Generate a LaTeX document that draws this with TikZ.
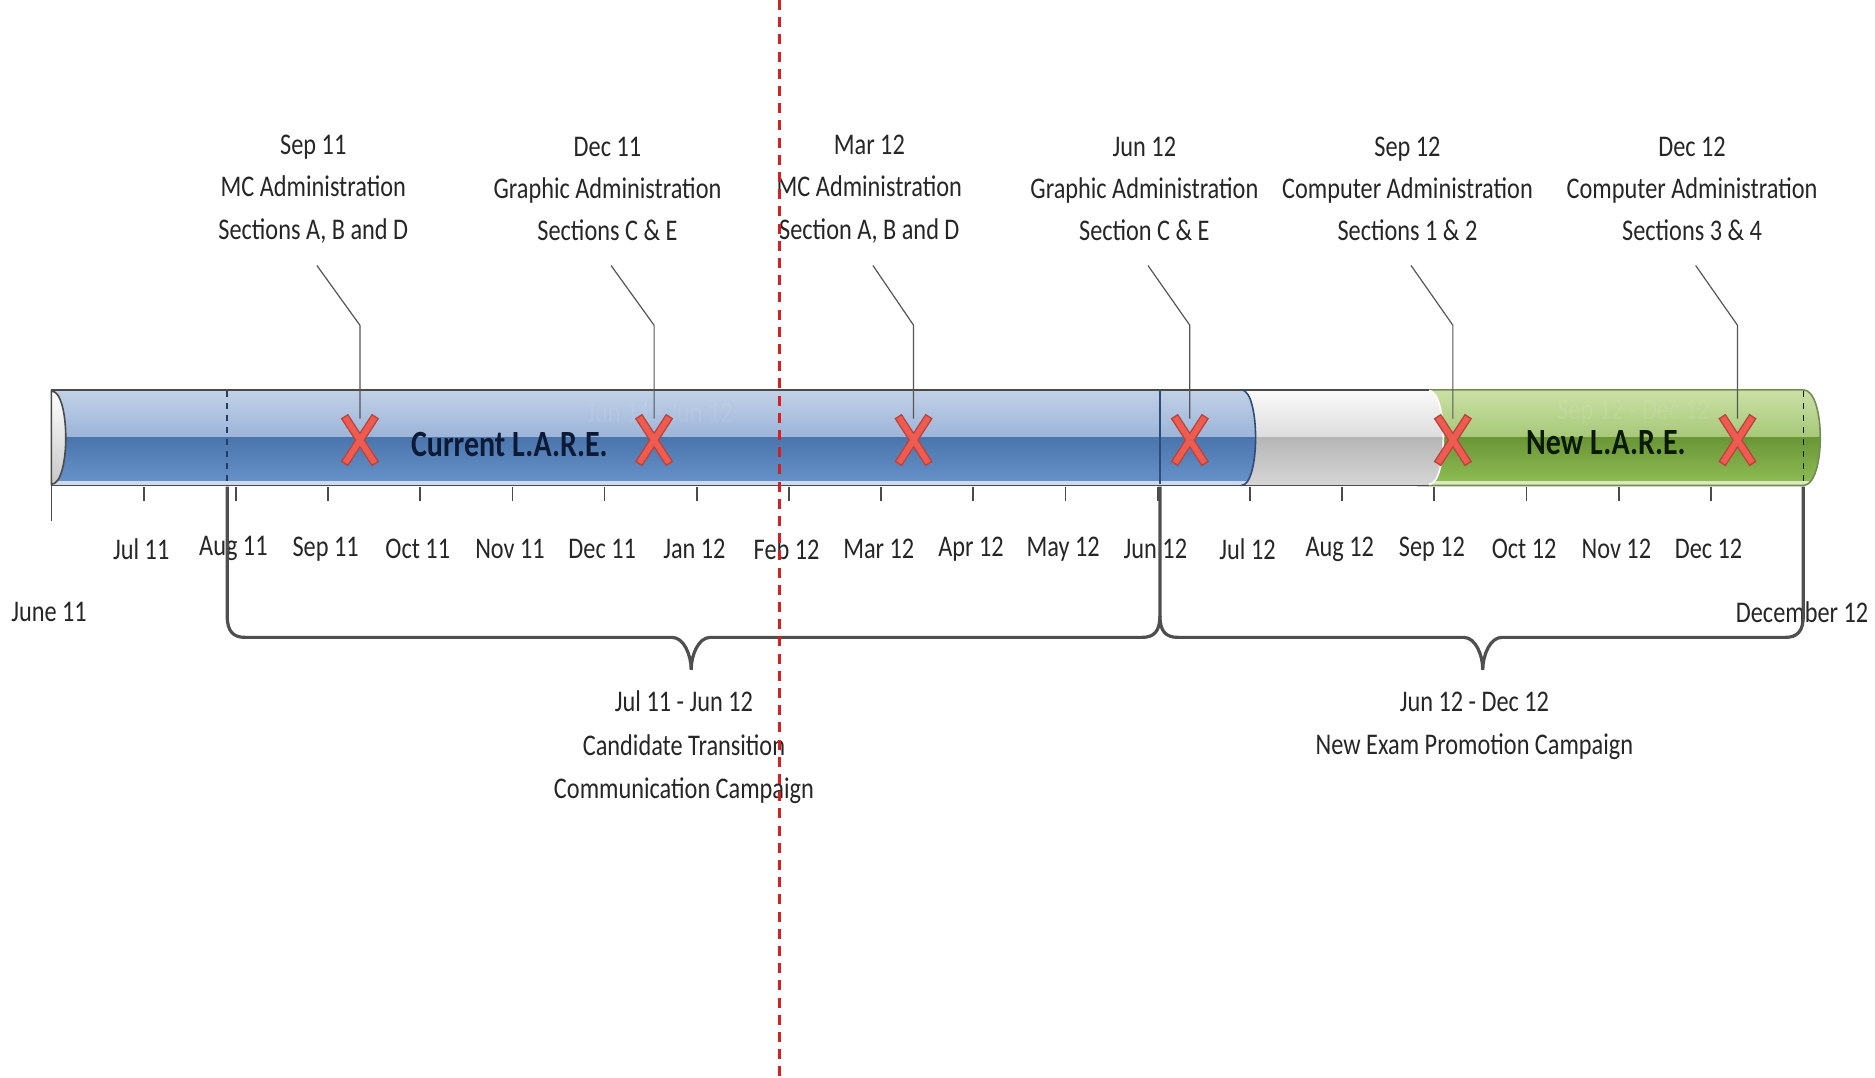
\documentclass[tikz,border=0pt]{standalone}
\usepackage{fontspec}
\setmainfont{Carlito}[FakeStretch=0.81]
\definecolor{labelgray}{HTML}{262626}
\definecolor{leadgray}{HTML}{555555}
\definecolor{tickgray}{HTML}{4A4A4A}
\definecolor{bracegray}{HTML}{4F4F4F}
\definecolor{navyline}{HTML}{2E4C78}
\definecolor{bluetop}{HTML}{C2D1E7}
\definecolor{bluemidA}{HTML}{9CB4D8}
\definecolor{bluemidB}{HTML}{4A76AD}
\definecolor{bluebot}{HTML}{6893CB}
\definecolor{greytop}{HTML}{FBFBFB}
\definecolor{greymidA}{HTML}{DCDCDC}
\definecolor{greymidB}{HTML}{B6B6B6}
\definecolor{greybot}{HTML}{D6D6D6}
\definecolor{greentop}{HTML}{CBE0A6}
\definecolor{greenmidA}{HTML}{A6C878}
\definecolor{greenmidB}{HTML}{6A9636}
\definecolor{greenbot}{HTML}{90BE56}
\definecolor{xdark}{HTML}{B8443C}
\definecolor{xlight}{HTML}{EE5B50}
\definecolor{reddash}{HTML}{D42020}
\definecolor{curtext}{HTML}{0D1A36}
\definecolor{newtext}{HTML}{0B1A05}
\begin{document}
\begin{tikzpicture}[x=0.5979pt,y=-0.5979pt,
  lbl/.style={font=\fontsize{15}{21.2}\selectfont,text=labelgray,align=center,inner sep=0pt},
  blbl/.style={font=\fontsize{15}{21.8}\selectfont,text=labelgray,align=center,inner sep=0pt},
  mon/.style={font=\fontsize{15}{17}\selectfont,text=labelgray,inner sep=0pt},
  bartext/.style={font=\fontsize{18.5}{20}\selectfont\bfseries,inner sep=0pt},
  ghost/.style={font=\fontsize{15}{17}\selectfont,text=white,opacity=0.08,inner sep=0pt},
  lead/.style={draw=leadgray,line width=0.6pt},
  tickline/.style={draw=tickgray,line width=0.9pt},
  brace/.style={draw=bracegray,line width=1.6pt},
  xout/.style={draw=xdark,line width=4.3pt},
  xin/.style={draw=xlight,line width=2.9pt}]
\useasboundingbox (0,0) rectangle (1568,901);
\fill[white] (0,0) rectangle (1568,901);

% ---------- green segment ----------
\begin{scope}
\clip (1185,326) -- (1508,326) .. controls (1527,326) and (1527,406) .. (1508,406) -- (1185,406) -- cycle;
\shade[top color=greentop,bottom color=greenmidA] (1100,326) rectangle (1540,366);
\shade[top color=greenmidB,bottom color=greenbot] (1100,366) rectangle (1540,406);
\fill[greentop!70!white] (1100,402) rectangle (1540,406);
\end{scope}
\draw[draw=greenmidA!70!black,line width=0.8pt] (1185,326) -- (1508,326) .. controls (1527,326) and (1527,406) .. (1508,406) -- (1185,406);

% ---------- grey segment ----------
\begin{scope}
\clip (1030,326) -- (1195,326) .. controls (1211,326) and (1211,406) .. (1195,406) -- (1030,406) -- cycle;
\shade[top color=greytop,bottom color=greymidA] (1000,326) rectangle (1220,366);
\shade[top color=greymidB,bottom color=greybot] (1000,366) rectangle (1220,406);
\end{scope}
\draw[draw=tickgray,line width=0.9pt] (1030,326) -- (1195,326);
\draw[draw=tickgray,line width=0.9pt] (1030,406) -- (1195,406);
\draw[draw=white,line width=0.8pt] (1195,327) .. controls (1211,327) and (1211,405) .. (1195,405);

% ---------- blue segment ----------
\begin{scope}
\clip (43,326) -- (1038,326) .. controls (1054,326) and (1054,406) .. (1038,406) -- (43,406) -- cycle;
\shade[top color=bluetop,bottom color=bluemidA] (40,326) rectangle (1060,366);
\shade[top color=bluemidB,bottom color=bluebot] (40,366) rectangle (1060,406);
\fill[bluetop!80!white] (40,402) rectangle (1060,406);
\end{scope}
\draw[draw=tickgray,line width=0.9pt] (1038,326) -- (43,326) -- (43,406) -- (1038,406);
\draw[draw=navyline,line width=0.8pt] (1038,326) .. controls (1054,326) and (1054,406) .. (1038,406);

% left cap of the cylinder
\shade[top color=white,bottom color=black!22,draw=tickgray,line width=0.8pt]
  (43,327) .. controls (59,327) and (59,405) .. (43,405) -- cycle;

% dashed / solid markers inside the bar
\draw[navyline!80!black,dashed,line width=0.8pt] (190,327) -- (190,405);
\draw[navyline,line width=0.9pt] (970,327) -- (970,405);
\draw[newtext,dashed,line width=0.7pt] (1508,327) -- (1508,405);

% faint ghost labels in the bar
\node[ghost] (g1) at (552,345) {Jun 11 - Jun 12};
\node[ghost] (g2) at (1366,345) {Sep 12 - Dec 12};

% ---------- ticks and month labels ----------
\draw[tickline] (43,406) -- (43,436);
\foreach \i/\t in {1/Jul 11,2/Aug 11,3/Sep 11,4/Oct 11,5/Nov 11,6/Dec 11,7/Jan 12,8/Feb 12,9/Mar 12,10/Apr 12,11/May 12,12/Jun 12,13/Jul 12,14/Aug 12,15/Sep 12,16/Oct 12,17/Nov 12,18/Dec 12}{
  \draw[tickline] (43+\i*77.1,407) -- ++(0,12);
  \node[mon] (m\i) at (41+\i*77.1,459) {\t};
}
\node[mon] (m0) at (41,512) {June 11};
\node[mon] (m19) at (1507,512) {December 12};

% ---------- braces ----------
\coordinate (bl) at (190,407);
\coordinate (bm) at (970,407);
\coordinate (br) at (1508,407);
\draw[brace] (bl) -- (190,515) .. controls (190,528) and (195,533) .. (205,533) -- (562,533)
  .. controls (572,533) and (578,548) .. (578,560) .. controls (578,548) and (584,533) .. (594,533)
  -- (955,533) .. controls (965,533) and (970,528) .. (970,515) -- (bm);
\draw[brace] (970,515) .. controls (970,528) and (975,533) .. (985,533) -- (1224,533)
  .. controls (1234,533) and (1240,548) .. (1240,560) .. controls (1240,548) and (1246,533) .. (1256,533)
  -- (1493,533) .. controls (1503,533) and (1508,528) .. (1508,515) -- (br);
\node[blbl] (c1) at (572,625) {Jul 11 - Jun 12\\Candidate Transition\\Communication Campaign};
\node[blbl] (c2) at (1233,607) {Jun 12 - Dec 12\\New Exam Promotion Campaign};

% ---------- top labels ----------
\node[lbl] (l1) at (262,158) {Sep 11\\MC Administration\\Sections A, B and D};
\node[lbl] (l2) at (508,158) {Dec 11\\Graphic Administration\\Sections C \& E};
\node[lbl] (l3) at (727,158) {Mar 12\\MC Administration\\Section A, B and D};
\node[lbl] (l4) at (957,158) {Jun 12\\Graphic Administration\\Section C \& E};
\node[lbl] (l5) at (1177,158) {Sep 12\\Computer Administration\\Sections 1 \& 2};
\node[lbl] (l6) at (1415,158) {Dec 12\\Computer Administration\\Sections 3 \& 4};

% ---------- X markers ----------
\foreach \n/\x in {1/301,2/547,3/764,4/995,5/1215,6/1453}{
  \coordinate (x\n) at (\x,368);
  \draw[xout] ([shift={(-13,-20)}]x\n) -- ([shift={(13,20)}]x\n)
              ([shift={(13,-20)}]x\n) -- ([shift={(-13,20)}]x\n);
  \draw[xin]  ([shift={(-12.3,-19)}]x\n) -- ([shift={(12.3,19)}]x\n)
              ([shift={(12.3,-19)}]x\n) -- ([shift={(-12.3,19)}]x\n);
}

% ---------- leader lines ----------
\foreach \n in {1,...,6}{
  \draw[lead] ([shift={(3,64)}]l\n.center) -- ([shift={(0,-96)}]x\n) -- ([shift={(0,-18)}]x\n);
}

% ---------- bar titles ----------
\node[bartext,text=curtext] (cur) at (426,372) {Current L.A.R.E.};
\node[bartext,text=newtext] (new) at (1343,370) {New L.A.R.E.};

% ---------- red dashed divider ----------
\coordinate (rt) at (652,0);
\coordinate (rb) at (652,901);
\draw[reddash,line width=1.2pt,dash pattern=on 5pt off 3.6pt] (rt) -- (rb);
\end{tikzpicture}
\end{document}
